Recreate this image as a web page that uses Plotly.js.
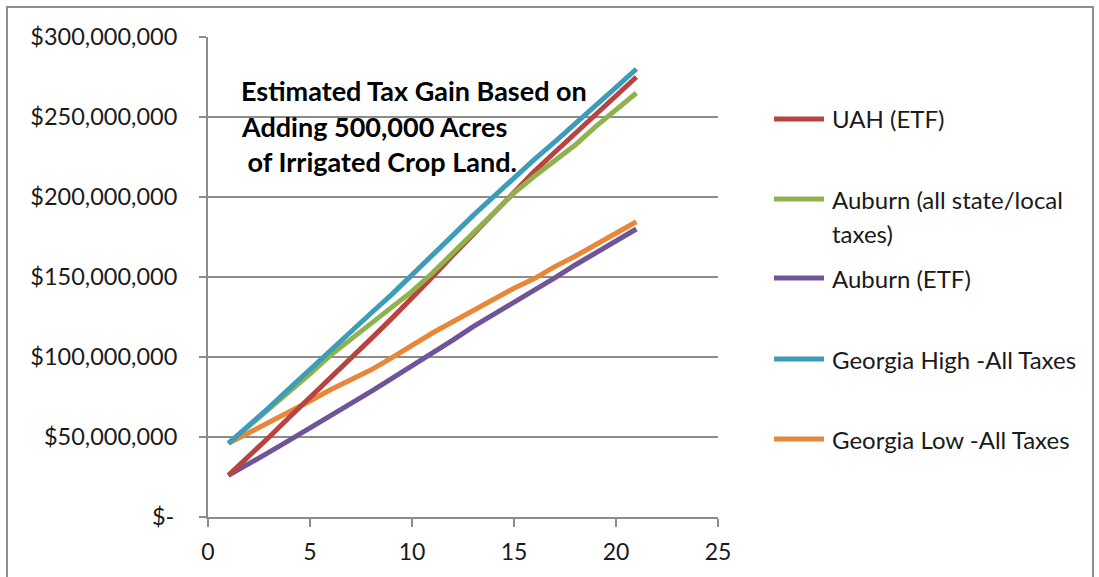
<!DOCTYPE html>
<html>
<head>
<meta charset="utf-8">
<script src="https://cdn.plot.ly/plotly-3.0.1.min.js"></script>
<style>
  html, body { margin: 0; padding: 0; background: #ffffff; }
  #chart { width: 1099px; height: 577px; }
</style>
</head>
<body>
<div id="chart"></div>
<script>
// Years after adding the irrigated acreage
const years = [1, 2, 3, 4, 5, 6, 7, 8, 9, 10, 11, 12, 13, 14, 15, 16, 17, 18, 19, 20, 21];

// Cumulative tax gain, millions of dollars
const uahEtf = [26, 37.5, 50, 62.5, 74.5, 87, 99, 111.5, 124, 136.5, 150, 163.5, 176.5, 190, 203.5, 216, 228, 239.5, 251, 263, 275];
const auburnAllTaxes = [46, 56.5, 67, 78.5, 89.5, 101, 111, 121, 131, 141, 152.5, 165, 177.5, 190.5, 202.5, 213, 222.5, 232.5, 244, 254.5, 265];
const auburnEtf = [26, 33, 40.5, 48, 55.5, 63.5, 71, 78.5, 86.5, 94.5, 102, 110.5, 119, 126.5, 134.5, 142, 149.5, 157.5, 165, 172.5, 180];
const georgiaHigh = [46, 57, 68.5, 80.5, 92.5, 104.5, 116, 127.5, 139, 151, 163.5, 176, 188.5, 200.5, 212, 223.5, 234.5, 245.5, 257, 268.5, 280];
const georgiaLow = [46, 52.5, 59, 65.5, 72.5, 79.5, 86, 92, 99.5, 107.5, 115, 122, 129, 136, 143, 149, 156.5, 163, 170, 177, 184.5];

const seriesNames = ['UAH (ETF)', 'Auburn (all state/local taxes)', 'Auburn (ETF)', 'Georgia High -All Taxes', 'Georgia Low -All Taxes'];

// Value axis ticks (millions) and their accounting-style labels
const yTickVals = [0, 50, 100, 150, 200, 250, 300];
const yTickText = ['$-\u2009', '$50,000,000', '$100,000,000', '$150,000,000', '$200,000,000', '$250,000,000', '$300,000,000'];

const titleLines = ['Estimated Tax Gain Based on', 'Adding 500,000 Acres', ' of Irrigated Crop Land.'];

const colors = ['#B8433F', '#8FB24E', '#6F5598', '#3D9DB9', '#E8873A'];
const seriesValues = [uahEtf, auburnAllTaxes, auburnEtf, georgiaHigh, georgiaLow];

// Layout geometry in page pixels
const W = 1099, H = 577;
const M = { l: 208, r: 381, t: 37, b: 60 };
const plotW = W - M.l - M.r, plotH = H - M.t - M.b;
const px = v => (v - M.l) / plotW;            // page x -> paper x
const py = v => (H - M.b - v) / plotH;        // page y -> paper y

const FONT = 'Lato, "Open Sans", sans-serif';
const gridColor = '#8c8c8c';
const textColor = '#1a1a1a';

const traces = seriesValues.map((vals, i) => ({
  type: 'scatter',
  mode: 'lines',
  x: years,
  y: vals,
  name: seriesNames[i],
  line: { color: colors[i], width: 5 },
  showlegend: false,
  hoverinfo: 'x+y+name'
}));

// Draw order: later traces sit on top
const drawOrder = [2, 4, 0, 1, 3];
const data = drawOrder.map(i => traces[i]);

const shapes = [
  // outer chart frame
  { type: 'rect', xref: 'paper', yref: 'paper',
    x0: px(7), x1: px(1093), y0: py(620), y1: py(7),
    line: { color: '#8f8f8f', width: 2 }, fillcolor: 'rgba(0,0,0,0)', layer: 'below' }
];

const annotations = [];

// Chart heading inside the plot area
const titleY = [90, 126, 161];
titleLines.forEach((t, i) => {
  annotations.push({
    xref: 'paper', yref: 'paper', x: px(239), y: py(titleY[i]),
    xanchor: 'left', yanchor: 'middle', showarrow: false,
    text: '<b>' + t.replace(/ /g, '\u00a0') + '</b>',
    font: { family: FONT, size: 27, color: '#000000' }
  });
});

// Legend on the right
const legendRows = [
  { y: 119, lines: ['UAH (ETF)'] },
  { y: 199, lines: ['Auburn (all state/local', 'taxes)'] },
  { y: 278, lines: ['Auburn (ETF)'] },
  { y: 359, lines: ['Georgia High -All Taxes'] },
  { y: 439, lines: ['Georgia Low -All Taxes'] }
];
legendRows.forEach((row, i) => {
  shapes.push({
    type: 'line', xref: 'paper', yref: 'paper',
    x0: px(774), x1: px(824), y0: py(row.y), y1: py(row.y),
    line: { color: colors[i], width: 5 }
  });
  row.lines.forEach((t, j) => {
    annotations.push({
      xref: 'paper', yref: 'paper', x: px(830), y: py(row.y + j * 34),
      xanchor: 'left', yanchor: 'middle', showarrow: false,
      text: t,
      font: { family: FONT, size: 24, color: textColor }
    });
  });
});

const layout = {
  width: W, height: H,
  margin: M,
  paper_bgcolor: '#ffffff',
  plot_bgcolor: '#ffffff',
  showlegend: false,
  font: { family: FONT, size: 23, color: textColor },
  xaxis: {
    range: [0, 25],
    tick0: 0, dtick: 5,
    showgrid: false, zeroline: false,
    showline: true, linecolor: gridColor, linewidth: 2,
    ticks: 'outside', ticklen: 8, tickwidth: 2, tickcolor: gridColor,
    ticklabelstandoff: 5,
    tickfont: { family: FONT, size: 23, color: textColor },
    fixedrange: true
  },
  yaxis: {
    range: [0, 300],
    tickmode: 'array', tickvals: yTickVals, ticktext: yTickText,
    showgrid: true, gridcolor: gridColor, gridwidth: 2,
    zeroline: false,
    showline: true, linecolor: gridColor, linewidth: 2,
    ticks: 'outside', ticklen: 7, tickwidth: 2, tickcolor: gridColor,
    ticklabelstandoff: 17,
    tickfont: { family: FONT, size: 23.5, color: textColor },
    fixedrange: true
  },
  shapes: shapes,
  annotations: annotations
};

Plotly.newPlot('chart', data, layout, { displayModeBar: false, staticPlot: true });
</script>
</body>
</html>
